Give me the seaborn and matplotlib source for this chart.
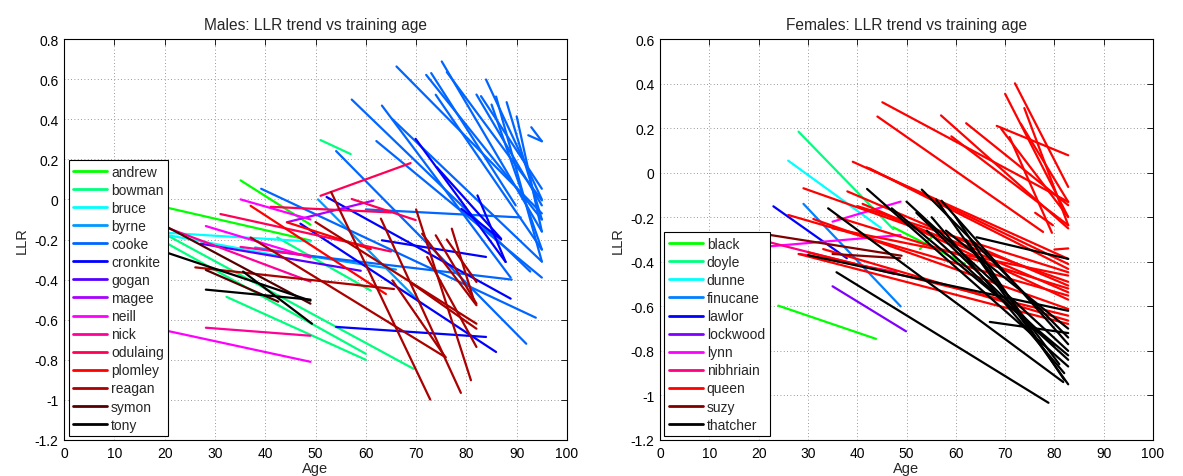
import numpy as np
import pandas as pd
import matplotlib
matplotlib.use("Agg")
import matplotlib.pyplot as plt
from matplotlib.lines import Line2D
from matplotlib.ticker import FuncFormatter, MultipleLocator
import seaborn as sns

# ---------------- data: segments (age_start, llr_start, age_end, llr_end) ----------------
# Males
andrew = [(18, -0.027, 49, -0.205), (35.1, 0.095, 49, -0.126)]
bowman = [(51, 0.296, 57, 0.226), (18, -0.145, 69.5, -0.845), (18, -0.185, 60, -0.77),
          (32.3, -0.486, 60, -0.80), (42.4, -0.19, 61, -0.455)]
bruce = [(18, -0.163, 49, -0.21), (18, -0.166, 42.5, -0.28)]
byrne = [(50.5, 0.0, 71, -0.52), (38, -0.24, 66, -0.35)]
cooke = [(66.1, 0.663, 95, -0.07), (75.1, 0.688, 95, -0.16), (72.0, 0.621, 95, -0.10),
         (73.0, 0.63, 89.8, -0.03), (76.1, 0.635, 95, -0.005), (57.2, 0.498, 92.7, -0.36),
         (63.2, 0.468, 88.8, -0.39), (65.2, 0.402, 95, -0.31), (62.1, 0.291, 95, -0.39),
         (54.1, 0.241, 91.9, -0.72), (73.9, 0.522, 95, -0.25), (83.9, 0.598, 95, 0.0),
         (82.0, 0.523, 95, -0.03), (82.9, 0.515, 95, 0.053), (85.9, 0.513, 95, -0.31),
         (85.0, 0.473, 95, -0.25), (88.0, 0.485, 95, -0.10), (90.0, 0.414, 95, -0.16),
         (92.9, 0.36, 95, 0.29), (92.3, 0.32, 95, 0.29), (39.2, 0.053, 93.8, -0.59),
         (41.7, -0.26, 89, -0.40), (60, -0.05, 90.8, -0.09)]
cronkite = [(52.2, 0.012, 88.8, -0.495), (47.0, -0.121, 85.9, -0.761), (54.1, -0.636, 83.9, -0.686),
            (63.2, -0.204, 83.9, -0.287), (69.9, 0.302, 87.8, -0.312), (74.1, 0.161, 86.9, -0.196),
            (79.0, -0.047, 86.9, -0.2), (82.2, 0.02, 87.8, -0.312)]
gogan = [(27.2, -0.221, 59, -0.356)]
magee = [(44.3, -0.114, 61.5, -0.006)]
neill = [(18, -0.642, 49, -0.81), (28.2, -0.133, 49, -0.29), (35.1, 0.0, 49, -0.10)]
nick = [(18, -0.118, 49, -0.41), (28.2, -0.64, 49, -0.68), (35.1, -0.237, 49, -0.282)]
odulaing = [(51, 0.018, 68.9, 0.181), (31.1, -0.073, 65, -0.26), (41.1, -0.037, 65, -0.065),
            (57.2, 0.002, 69.9, -0.103)]
plomley = [(37.1, -0.032, 64, -0.472), (44.4, -0.115, 61, -0.248)]
reagan = [(26.1, -0.339, 65.6, -0.447), (37.1, -0.19, 75.9, -0.788), (53.1, 0.037, 72.8, -0.998),
          (63.0, -0.096, 78.9, -0.965), (70.0, -0.05, 80.9, -0.902), (71.2, -0.171, 82, -0.528),
          (73.9, -0.179, 82, -0.52), (76.1, -0.2, 82, -0.412), (77.1, -0.146, 81.6, -0.512),
          (72.2, -0.287, 82, -0.736), (65.3, -0.404, 75.8, -0.786), (69.2, -0.42, 82, -0.645),
          (50.0, -0.113, 82, -0.62)]
symon = [(18, -0.104, 49, -0.52), (28.2, -0.352, 42.6, -0.51)]
tony = [(18, -0.245, 49, -0.505), (28.2, -0.45, 49, -0.50), (35.6, -0.36, 49.3, -0.62)]

male_names = ["andrew", "bowman", "bruce", "byrne", "cooke", "cronkite", "gogan", "magee",
              "neill", "nick", "odulaing", "plomley", "reagan", "symon", "tony"]
male_segments = [andrew, bowman, bruce, byrne, cooke, cronkite, gogan, magee,
                 neill, nick, odulaing, plomley, reagan, symon, tony]
male_colors = ["#00FF00", "#00FF7F", "#00FFFF", "#0099FF", "#0066FF", "#0000FF", "#5500FF", "#AA00FF",
               "#FF00FF", "#FF0099", "#FF0055", "#FF0000", "#AA0000", "#550000", "#000000"]

# Females
black = [(24, -0.597, 43.8, -0.746), (47.3, -0.245, 61.9, -0.41), (52.7, -0.343, 55.1, -0.29)]
doyle = [(28.1, 0.184, 47.3, -0.253)]
dunne = [(26, 0.054, 44.8, -0.248)]
finucane = [(29.1, -0.14, 48.8, -0.60)]
lawlor = [(23, -0.151, 37.9, -0.384)]
lockwood = [(35, -0.51, 49.9, -0.712)]
lynn = [(35, -0.22, 48.8, -0.13), (20, -0.335, 48.8, -0.28)]
nibhriain = [(20, -0.30, 47.6, -0.455), (28.4, -0.365, 48, -0.447)]
queen = [(45.1, 0.316, 82.8, -0.131), (44.1, 0.252, 77.7, -0.266), (57.0, 0.257, 82.8, -0.25),
         (59.1, 0.163, 82.8, -0.236), (62.1, 0.222, 82.8, -0.146), (68.3, 0.21, 82.8, 0.078),
         (69.2, 0.197, 82.8, -0.199), (70.0, 0.354, 82.8, -0.199), (72.0, 0.401, 82.8, -0.064),
         (73.9, 0.29, 82.8, -0.236), (73.2, 0.219, 82.8, -0.131), (70.9, 0.16, 79.5, -0.27),
         (76.1, -0.18, 79.7, -0.236), (80, -0.345, 82.8, -0.34),
         (39.1, 0.049, 82.8, -0.387), (41.9, 0.024, 82.8, -0.41), (42.5, 0.019, 82.8, -0.432),
         (29.1, -0.07, 82.8, -0.49), (38, -0.084, 82.8, -0.507), (41.1, -0.14, 82.8, -0.537),
         (26, -0.19, 82.8, -0.552), (31.1, -0.208, 82.8, -0.612), (33.1, -0.343, 82.8, -0.664),
         (28.1, -0.365, 82.8, -0.679), (30.1, -0.358, 82.8, -0.642), (40, -0.15, 82.8, -0.447),
         (35, -0.25, 82.8, -0.462), (36, -0.20, 82.8, -0.52), (44, -0.17, 82.8, -0.57)]
suzy = [(21, -0.275, 49, -0.373), (35, -0.365, 48.7, -0.384)]
thatcher = [(34.1, -0.16, 81.8, -0.94), (42.0, -0.073, 82.8, -0.87), (50.0, -0.13, 82.8, -0.80),
            (53.1, -0.076, 82.8, -0.74), (57.1, -0.126, 82.8, -0.77), (55.1, -0.2, 82, -0.90),
            (54.1, -0.26, 82.8, -0.84), (64.2, -0.29, 82.8, -0.387), (66.9, -0.67, 82.8, -0.72),
            (35.8, -0.447, 78.8, -1.033), (30, -0.37, 82.8, -0.62), (58, -0.26, 82.8, -0.70),
            (60, -0.2, 82, -0.93), (62, -0.3, 81, -0.86), (52, -0.18, 80, -0.78),
            (47, -0.16, 82.8, -0.82), (56, -0.12, 82.8, -0.95)]

female_names = ["black", "doyle", "dunne", "finucane", "lawlor", "lockwood", "lynn",
                "nibhriain", "queen", "suzy", "thatcher"]
female_segments = [black, doyle, dunne, finucane, lawlor, lockwood, lynn,
                   nibhriain, queen, suzy, thatcher]
female_colors = ["#00FF00", "#00FF80", "#00FFFF", "#0080FF", "#0000FF", "#8000FF", "#FF00FF",
                 "#FF0080", "#FF0000", "#800000", "#000000"]

x_ticks = [0, 10, 20, 30, 40, 50, 60, 70, 80, 90, 100]


def to_frame(names, segments):
    rows = []
    for name, segs in zip(names, segments):
        for i, (a1, l1, a2, l2) in enumerate(segs):
            uid = f"{name}_{i}"
            rows.append((name, uid, a1, l1))
            rows.append((name, uid, a2, l2))
    return pd.DataFrame(rows, columns=["speaker", "seg", "age", "llr"])


sns.set_style("white")
plt.rcParams["font.family"] = ["Liberation Sans", "DejaVu Sans"]
plt.rcParams["axes.unicode_minus"] = False

fig = plt.figure(figsize=(11.83, 4.77), dpi=100)
ax1 = fig.add_axes([64 / 1183, 1 - 441 / 477, 503 / 1183, 401 / 477])
ax2 = fig.add_axes([660 / 1183, 1 - 441 / 477, 493 / 1183, 401 / 477])


def draw(ax, names, segments, colors, title, ylim):
    df = to_frame(names, segments)
    pal = dict(zip(names, colors))
    sns.lineplot(data=df, x="age", y="llr", hue="speaker", units="seg", estimator=None,
                 palette=pal, hue_order=names, sort=False, legend=False, lw=1.6, ax=ax)
    ax.set_xlim(0, 100)
    ax.set_ylim(*ylim)
    ax.set_xticks(x_ticks)
    ax.yaxis.set_major_locator(MultipleLocator(0.2))
    ax.yaxis.set_major_formatter(FuncFormatter(lambda v, p: f"{round(v, 2):g}"))
    ax.grid(True, linestyle=(0, (1, 3)), color="#777777", lw=0.6)
    ax.set_axisbelow(True)
    for s in ax.spines.values():
        s.set_visible(True)
        s.set_color("black")
        s.set_linewidth(0.8)
    ax.tick_params(direction="in", top=True, right=True, length=4, width=0.6,
                   labelsize=10, pad=4, colors="black")
    ax.set_xlabel("Age", fontsize=10.5, labelpad=1)
    ax.set_ylabel("LLR", fontsize=10.5, labelpad=4)
    ax.set_title(title, fontsize=11.2, pad=7)
    handles = [Line2D([], [], color=c, lw=2) for c in colors]
    leg = ax.legend(handles, names, loc="lower left", bbox_to_anchor=(0.009, 0.009),
                    borderaxespad=0, fontsize=10, frameon=True, fancybox=False,
                    framealpha=1, edgecolor="black", handlelength=2.4, handletextpad=0.3,
                    labelspacing=0.29, borderpad=0.35)
    leg.get_frame().set_linewidth(0.8)
    leg.set_zorder(10)


draw(ax1, male_names, male_segments, male_colors, "Males: LLR trend vs training age", (-1.2, 0.8))
draw(ax2, female_names, female_segments, female_colors, "Females: LLR trend vs training age", (-1.2, 0.6))

fig.savefig("out.png", dpi=100)
